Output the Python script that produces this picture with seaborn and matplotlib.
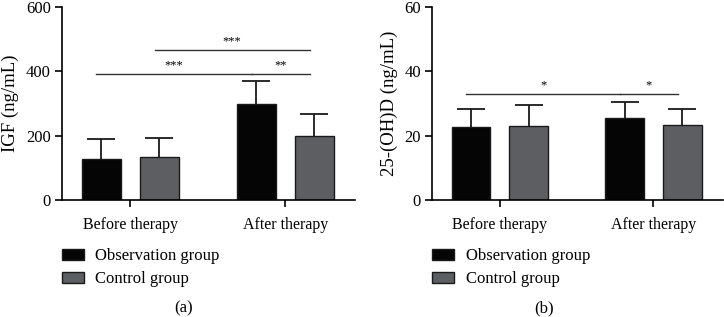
# Grafico a barre IGF e 25-(OH)D, prima e dopo la terapia
import pandas as pd
import seaborn as sns
import matplotlib.pyplot as plt
from matplotlib.patches import Patch

periods = ["Before therapy", "After therapy"]
groups = ["Observation group", "Control group"]
colors = ["#050505", "#5b5e63"]

# IGF (ng/mL)
igf_obs = [127, 298]
igf_obs_sd = [63, 72]
igf_ctrl = [134, 199]
igf_ctrl_sd = [59, 68]

# 25-(OH)D (ng/mL)
vitd_obs = [22.7, 25.5]
vitd_obs_sd = [5.6, 5.0]
vitd_ctrl = [23.0, 23.3]
vitd_ctrl_sd = [6.5, 5.0]

# significativita: (gruppo, periodo) -> (gruppo, periodo), livello, etichetta
igf_sig = [((0, 0), (0, 1), 392, "***"),
           ((0, 1), (1, 1), 392, "**"),
           ((1, 0), (1, 1), 466, "***")]
vitd_sig = [((0, 0), (0, 1), 33, "*"),
            ((0, 1), (1, 1), 33, "*")]

plt.rcParams['font.family'] = ['Liberation Serif', 'DejaVu Serif']
plt.rcParams['font.size'] = 12


def make_df(obs, ctrl):
    rows = []
    for g, vals in zip(groups, [obs, ctrl]):
        for p, v in zip(periods, vals):
            rows.append({"period": p, "group": g, "value": v})
    return pd.DataFrame(rows)


def draw_panel(ax, obs, obs_sd, ctrl, ctrl_sd, sig, ymax, ylabel, caption, caption_x):
    df = make_df(obs, ctrl)
    sns.barplot(data=df, x="period", y="value", hue="group", order=periods,
                hue_order=groups, palette=colors, width=0.75, gap=0.33,
                edgecolor="#1a1a1a", linewidth=1.0, errorbar=None,
                legend=False, ax=ax, zorder=2)
    centers = {}
    for gi, (cont, sd) in enumerate(zip(ax.containers, [obs_sd, ctrl_sd])):
        xs = [b.get_x() + b.get_width() / 2 for b in cont]
        hs = [b.get_height() for b in cont]
        _, caps, _ = ax.errorbar(xs, hs, yerr=[[0] * len(sd), sd], fmt="none",
                                 ecolor="#1a1a1a", elinewidth=1.3, capsize=10,
                                 capthick=1.3, zorder=1)
        caps[0].set_visible(False)
        for pi, x in enumerate(xs):
            centers[(gi, pi)] = x
    for a, b, h, lab in sig:
        x0, x1 = centers[a] - 0.03, centers[b] - 0.03
        ax.plot([x0, x1], [h, h], color="#333333", lw=1.0)
        ax.text((x0 + x1) / 2, h + ymax * 0.012, lab, ha="center",
                va="bottom", fontsize=9)
    ax.set_xlim(-0.44, 1.45)
    ax.set_ylim(0, ymax)
    ax.set_yticks([0, ymax / 3, 2 * ymax / 3, ymax])
    ax.set_xlabel("")
    ax.set_ylabel(ylabel, fontsize=13.5, labelpad=5)
    sns.despine(ax=ax)
    ax.spines["left"].set_linewidth(1.2)
    ax.spines["bottom"].set_linewidth(1.2)
    ax.tick_params(width=1.2, length=5)
    ax.tick_params(axis="y", labelsize=12, pad=3)
    ax.tick_params(axis="x", labelsize=11.5, pad=7)
    handles = [Patch(facecolor=c, edgecolor="#1a1a1a", label=g)
               for c, g in zip(colors, groups)]
    ax.legend(handles=handles, loc="upper left", bbox_to_anchor=(0, -0.25),
              frameon=False, borderpad=0, borderaxespad=0,
              handlelength=1.3, handleheight=0.7, handletextpad=0.7,
              labelspacing=0.42, fontsize=12)
    fig.text(caption_x, 0.028, caption, ha="center", va="center", fontsize=12)


fig = plt.figure(figsize=(7.24, 3.17), dpi=100)
ax1 = fig.add_axes([0.0856, 0.369, 0.405, 0.609])
ax2 = fig.add_axes([0.597, 0.369, 0.401, 0.609])

draw_panel(ax1, igf_obs, igf_obs_sd, igf_ctrl, igf_ctrl_sd, igf_sig, 600,
           "IGF (ng/mL)", "(a)", 0.253)
draw_panel(ax2, vitd_obs, vitd_obs_sd, vitd_ctrl, vitd_ctrl_sd, vitd_sig, 60,
           "25-(OH)D (ng/mL)", "(b)", 0.751)

plt.savefig("out.png", dpi=100)
